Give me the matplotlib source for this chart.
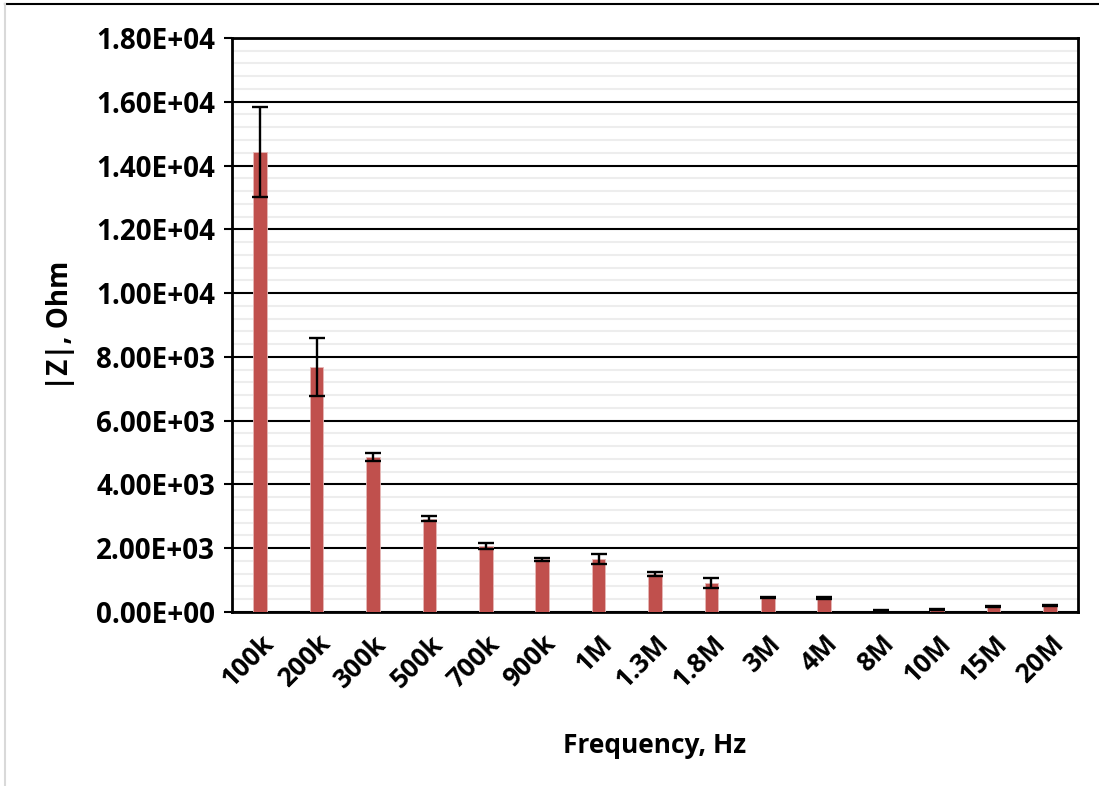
import matplotlib.pyplot as plt
from matplotlib.lines import Line2D
from matplotlib.ticker import FuncFormatter, MultipleLocator

freqs = ["100k", "200k", "300k", "500k", "700k", "900k", "1M", "1.3M",
         "1.8M", "3M", "4M", "8M", "10M", "15M", "20M"]
impedance = [14420, 7680, 4860, 2920, 2070, 1650, 1660, 1190,
             910, 460, 440, 50, 70, 170, 200]
errors = [1400, 900, 130, 80, 100, 40, 160, 55,
          150, 25, 25, 15, 20, 15, 20]

plt.rcParams['font.family'] = ['Open Sans', 'DejaVu Sans']

fig = plt.figure(figsize=(10.99, 7.86), dpi=100)
ax = fig.add_axes([0.211, 0.2214, 0.770, 0.7303])

x = range(len(freqs))
ax.bar(x, impedance, width=0.24, color="#C0504D", edgecolor="#E6B8B7",
       linewidth=0.6, zorder=3)
ax.errorbar(x, impedance, yerr=errors, fmt="none", ecolor="black",
            elinewidth=1.7, capsize=6, capthick=1.7, zorder=4)

ax.set_xlim(-0.5, len(freqs) - 0.5)
ax.set_ylim(0, 18000)
ax.yaxis.set_major_locator(MultipleLocator(2000))
ax.yaxis.set_minor_locator(MultipleLocator(400))
ax.yaxis.set_major_formatter(FuncFormatter(lambda v, p: f"{v:.2E}"))
ax.grid(which="major", axis="y", color="black", linewidth=1.5, zorder=1)
ax.grid(which="minor", axis="y", color="#EDEDED", linewidth=1.5, zorder=0)
ax.set_axisbelow(True)

ax.set_xticks(list(x))
ax.set_xticklabels(freqs, rotation=45, ha="right", rotation_mode="anchor",
                   fontsize=19, fontweight="bold")
for lbl in ax.get_yticklabels():
    lbl.set_fontsize(20)
    lbl.set_fontweight("bold")
ax.tick_params(axis="x", length=0, pad=13)
ax.tick_params(axis="y", which="major", length=6, width=1.5, pad=6)
ax.tick_params(axis="y", which="minor", length=0)

for s in ax.spines.values():
    s.set_linewidth(2)
    s.set_color("black")

ax.set_ylabel("|Z|, Ohm", fontsize=20, fontweight="bold", labelpad=15)
ax.set_xlabel("Frequency, Hz", fontsize=19, fontweight="bold", labelpad=28)

# outer frame remnants
fig.add_artist(Line2D([0.005, 1], [0.995, 0.995], color="black", linewidth=1.5,
                      transform=fig.transFigure))
fig.add_artist(Line2D([0.005, 0.005], [0, 0.995], color="#D9D9D9", linewidth=1.5,
                      transform=fig.transFigure))

fig.savefig("out.png", dpi=100)
